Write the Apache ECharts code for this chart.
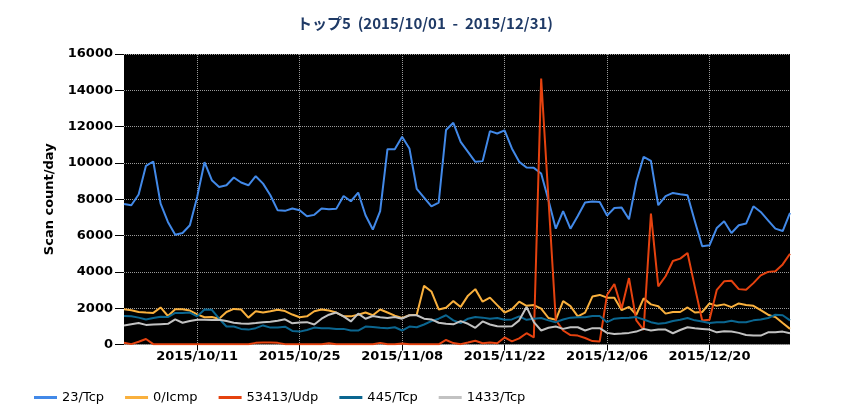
<!DOCTYPE html>
<html>
<head>
<meta charset="utf-8">
<script src="https://cdn.jsdelivr.net/npm/echarts@6/dist/echarts.min.js"></script>
<style>
html,body{margin:0;padding:0;background:#fff;}
#c{width:850px;height:420px;}
</style>
</head>
<body>
<div id="c"></div>
<script>
// categories: each day from 2015/10/01 to 2015/12/31
var startDate = [2015, 10, 1];
var dayCount = 92;
function buildDates() {
  var out = [];
  var d = new Date(Date.UTC(startDate[0], startDate[1] - 1, startDate[2]));
  for (var i = 0; i < dayCount; i++) {
    var m = d.getUTCMonth() + 1, dd = d.getUTCDate();
    out.push(d.getUTCFullYear() + '/' + (m < 10 ? '0' + m : m) + '/' + (dd < 10 ? '0' + dd : dd));
    d = new Date(d.getTime() + 86400000);
  }
  return out;
}
var categories = buildDates();

var seriesNames = ['23/Tcp', '0/Icmp', '53413/Udp', '445/Tcp', '1433/Tcp'];

var tcp23 = [
  7740, 7670, 8260, 9840, 10080, 7760, 6750, 6050, 6140, 6570,
  8130, 10040, 9050, 8680, 8770, 9200, 8920, 8770, 9270, 8860,
  8220, 7390, 7360, 7490, 7390, 7060, 7140, 7490, 7450, 7470,
  8180, 7890, 8370, 7120, 6330, 7340, 10760, 10760, 11440, 10800,
  8570, 8090, 7610, 7820, 11810, 12210, 11160, 10610, 10060, 10100,
  11750, 11620, 11790, 10800, 10060, 9750, 9730, 9420, 7940, 6380,
  7340, 6380, 7080, 7820, 7870, 7850, 7100, 7520, 7540, 6900,
  8960, 10340, 10110, 7670, 8170, 8350, 8280, 8220, 6790, 5410,
  5460, 6420, 6790, 6140, 6570, 6660, 7610, 7300, 6840, 6380,
  6250, 7250
];

var icmp0 = [
  1940, 1890, 1790, 1760, 1740, 2040, 1570, 1940, 1940, 1870, 1660, 1500,
  1510, 1420, 1790, 1960, 1930, 1480, 1830, 1760, 1830, 1910, 1840, 1650,
  1500, 1550, 1830, 1930, 1870, 1760, 1550, 1550, 1640, 1760, 1610, 1930,
  1760, 1590, 1460, 1610, 1640, 3230, 2920, 1930, 2020, 2390,
  2070, 2690, 3050, 2360, 2580, 2170, 1760, 1940, 2360, 2130, 2170, 1980,
  1460, 1360, 2390, 2110, 1550, 1760, 2640, 2730, 2580, 2580,
  1890, 2070, 1640, 2540, 2210, 2110, 1700, 1790, 1790, 2040, 1760, 1790,
  2260, 2130, 2210, 2060, 2260, 2170, 2130, 1890, 1640, 1510, 1180, 860
];

var udp53413 = [
  100, 20, 150, 300, 20, 10, 10, 10, 10, 10, 10, 10,
  10, 10, 10, 10, 10, 10, 90, 110, 110, 90, 20, 10,
  10, 10, 10, 10, 70, 10, 10, 10, 10, 10, 10, 90,
  10, 10, 60, 10, 10, 10, 10, 10, 250, 80,
  20, 110, 210, 70, 110, 70, 390, 170, 340, 620, 390, 14650,
  8000, 1350, 770, 520, 490, 360, 190, 170, 2730, 3330,
  1980, 3660, 1330, 800, 7210, 3200, 3760, 4600, 4730, 5040, 3160, 1320,
  1360, 3010, 3480, 3510, 3050, 3010, 3380, 3810, 4000, 4040, 4410, 5000
];

var tcp445 = [
  1570, 1550, 1480, 1380, 1460, 1530, 1510, 1740, 1740, 1760, 1550, 1930,
  1910, 1420, 990, 990, 860, 820, 900, 1050, 930, 930, 980, 750,
  710, 800, 930, 900, 900, 860, 860, 770, 770, 990, 970, 920,
  900, 950, 770, 990, 950, 1100, 1290, 1420, 1610, 1330,
  1180, 1420, 1510, 1480, 1420, 1460, 1360, 1380, 1550, 1360, 1420, 1460,
  1330, 1230, 1380, 1480, 1500, 1500, 1570, 1570, 1230, 1420,
  1460, 1480, 1510, 1380, 1230, 1140, 1180, 1290, 1360, 1460, 1330, 1270,
  1180, 1230, 1230, 1310, 1230, 1230, 1330, 1380, 1460, 1640, 1610, 1330
];

var tcp1433 = [
  1050, 1120, 1180, 1080, 1100, 1120, 1140, 1380, 1200, 1290, 1360, 1360,
  1350, 1360, 1290, 1200, 1160, 1140, 1180, 1230, 1250, 1310, 1390, 1170,
  1210, 1230, 1100, 1420, 1640, 1760, 1550, 1270, 1700, 1420, 1570, 1500,
  1460, 1510, 1420, 1610, 1610, 1420, 1380, 1200, 1140, 1110,
  1290, 1140, 920, 1270, 1100, 1010, 990, 1010, 1330, 2070, 1230, 770,
  920, 990, 860, 950, 950, 770, 900, 900, 640, 580,
  600, 640, 710, 860, 770, 820, 820, 620, 800, 950, 900, 860,
  820, 670, 730, 710, 640, 520, 490, 490, 670, 670, 710, 620
];

var yTicks = [0, 2000, 4000, 6000, 8000, 10000, 12000, 14000, 16000];
var labelFirstIndex = 10;
var labelStep = 14;

var colors = ['#4289e8', '#f9b03d', '#e5420f', '#0b6690', '#c2c2c2'];
var seriesData = [tcp23, icmp0, udp53413, tcp445, tcp1433];

function showAt(idx) {
  return idx >= labelFirstIndex && (idx - labelFirstIndex) % labelStep === 0;
}

var chart = echarts.init(document.getElementById('c'), null, {renderer: 'canvas'});
var option = {
  animation: false,
  backgroundColor: '#ffffff',
  color: colors,
  title: {
    text: 'トップ5  (2015/10/01  -  2015/12/31)',
    left: 'center',
    top: 11,
    textStyle: {
      fontFamily: '"Noto Sans CJK JP", "DejaVu Sans", sans-serif',
      fontSize: 15,
      fontWeight: 'bold',
      color: '#1f3a66'
    }
  },
  legend: {
    data: seriesNames,
    left: 29,
    top: 386,
    icon: 'rect',
    itemWidth: 23,
    itemHeight: 3,
    itemGap: 21,
    textStyle: {
      fontFamily: '"DejaVu Sans", sans-serif',
      fontSize: 13,
      color: '#000'
    }
  },
  grid: {
    left: 124,
    right: 60,
    top: 54,
    bottom: 75.5,
    show: true,
    backgroundColor: '#000000',
    borderWidth: 0,
    containLabel: false
  },
  xAxis: {
    type: 'category',
    data: categories,
    boundaryGap: false,
    axisLine: {show: false},
    axisTick: {
      show: true,
      length: 6,
      interval: function (idx) { return showAt(idx); },
      lineStyle: {color: '#000', width: 1}
    },
    axisLabel: {
      interval: function (idx) { return showAt(idx); },
      margin: 6,
      fontFamily: '"DejaVu Sans", sans-serif',
      fontSize: 13,
      fontWeight: 'bold',
      color: '#000'
    },
    splitLine: {
      show: true,
      interval: function (idx) { return showAt(idx); },
      lineStyle: {color: '#9a9a9a', type: 'dotted', width: 1}
    }
  },
  yAxis: {
    type: 'value',
    min: yTicks[0],
    max: yTicks[yTicks.length - 1],
    interval: yTicks[1] - yTicks[0],
    name: 'Scan count/day',
    nameLocation: 'middle',
    nameGap: 68,
    nameTextStyle: {
      fontFamily: '"DejaVu Sans", sans-serif',
      fontSize: 13,
      fontWeight: 'bold',
      color: '#000'
    },
    axisLine: {show: false},
    axisTick: {show: true, length: 9, lineStyle: {color: '#000', width: 1}},
    axisLabel: {
      margin: 11,
      formatter: function (v) { return String(v); },
      fontFamily: '"DejaVu Sans", sans-serif',
      fontSize: 13,
      fontWeight: 'bold',
      color: '#000'
    },
    splitLine: {
      show: true,
      lineStyle: {color: '#9a9a9a', type: 'dotted', width: 1}
    }
  },
  series: seriesNames.map(function (name, i) {
    return {
      name: name,
      type: 'line',
      data: seriesData[i],
      showSymbol: false,
      symbol: 'none',
      smooth: false,
      lineStyle: {width: 2, color: colors[i]},
      itemStyle: {color: colors[i]},
      z: 2 + i
    };
  })
};
chart.setOption(option);
</script>
</body>
</html>
